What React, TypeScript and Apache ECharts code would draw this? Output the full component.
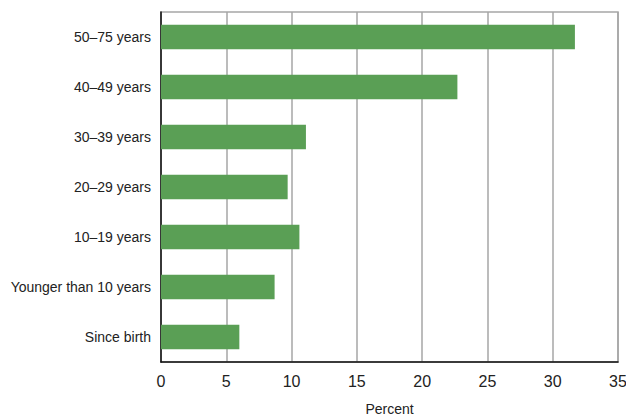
import React, { useEffect, useRef } from "react";
import * as echarts from "echarts";

const categories = [
  "Since birth",
  "Younger than 10 years",
  "10–19 years",
  "20–29 years",
  "30–39 years",
  "40–49 years",
  "50–75 years",
];
const values = [6.0, 8.7, 10.6, 9.7, 11.1, 22.7, 31.7];
const xTicks = [0, 35, 5];

const FONT = "'Liberation Sans Narrow', 'Liberation Sans', Arial, sans-serif";

export default function App() {
  const ref = useRef<HTMLDivElement>(null);
  useEffect(() => {
    const chart = echarts.init(ref.current!, null, { renderer: "svg" });
    chart.setOption({
      animation: false,
      grid: {
        left: 161,
        right: 8,
        top: 12,
        bottom: 55,
        outerBoundsMode: "none",
        containLabel: false,
        show: true,
        borderColor: "#a6a6a6",
        borderWidth: 1.5,
      },
      xAxis: {
        type: "value",
        min: xTicks[0],
        max: xTicks[1],
        interval: xTicks[2],
        name: "Percent",
        nameLocation: "middle",
        nameGap: 40,
        nameTextStyle: { fontFamily: FONT, fontSize: 14, color: "#222" },
        axisLine: { show: true, lineStyle: { color: "#111", width: 1.5 } },
        axisTick: { show: false },
        axisLabel: { fontFamily: FONT, fontSize: 16, color: "#222", margin: 11 },
        splitLine: { show: true, lineStyle: { color: "#a6a6a6", width: 1.5 } },
      },
      yAxis: {
        type: "category",
        data: categories,
        axisLine: { show: true, lineStyle: { color: "#111", width: 1.5 } },
        axisTick: { show: false },
        axisLabel: { fontFamily: FONT, fontSize: 14, color: "#222", margin: 10 },
        splitLine: { show: false },
      },
      series: [
        {
          type: "bar",
          data: values,
          barWidth: "49%",
          itemStyle: { color: "#5a9f55" },
        },
      ],
    });
    return () => chart.dispose();
  }, []);
  return <div ref={ref} style={{ width: 626, height: 417, position: "absolute", left: 0, top: 0 }} />;
}
